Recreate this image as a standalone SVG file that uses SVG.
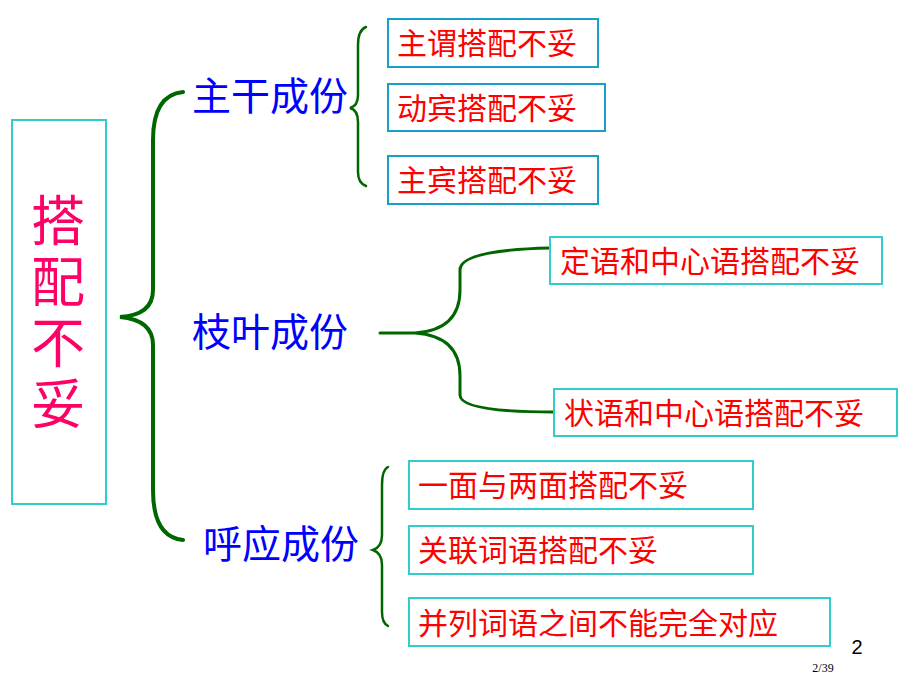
<svg xmlns="http://www.w3.org/2000/svg" width="920" height="690" viewBox="0 0 920 690">
<style>
.t{font-family:"Noto Sans CJK SC","Liberation Sans",sans-serif}
.b1{fill:#fff;stroke:#1aa0c8;stroke-width:2}
.b2{fill:#fff;stroke:#33cccc;stroke-width:2}
.r{fill:#ff0000;font-size:30px}
.bl{fill:#0000ff;font-size:39px}
.br{fill:none;stroke:#006600;stroke-linecap:round}
</style>
<rect width="920" height="690" fill="#fff"/>
<g id="title"><rect x="12" y="120" width="94" height="384" fill="#fff" stroke="#33cccc" stroke-width="2"/>
<text class="t" x="58" y="193" fill="#ff0066" font-size="54" writing-mode="tb" letter-spacing="7">搭配不妥</text></g>
<g id="connectors">
<path class="br" stroke-width="4" d="M183,92 Q153,95 153,140 L153,290 Q153,315 120,317 Q153,320 153,345 L153,490 Q153,537 183,540"/>
<path class="br" stroke-width="2.5" d="M366,27 Q358,30 358,45 L358,95 Q358,106 350,108 Q358,110 358,122 L358,172 Q358,183 366,186"/>
<path class="br" stroke-width="3" d="M380,333 L415,333 Q460,330 460,290 L460,270 Q460,250 550,248 M415,333 Q460,336 460,376 L460,395 Q460,412 554,412"/>
<path class="br" stroke-width="2.5" d="M388,467 Q382,470 382,485 L382,535 Q382,547 373,550 Q382,553 382,565 L382,612 Q382,623 388,626"/>
</g>
<g id="n-main"><text class="t bl" x="192" y="110">主干成份</text></g>
<g id="n-branch"><text class="t bl" x="192" y="346">枝叶成份</text></g>
<g id="n-echo"><text class="t bl" x="203" y="558">呼应成份</text></g>
<g id="b1"><rect class="b1" x="388" y="19" width="210" height="48"/><text class="t r" x="397" y="54">主谓搭配不妥</text></g>
<g id="b2"><rect class="b1" x="388" y="84" width="217" height="47"/><text class="t r" x="397" y="119">动宾搭配不妥</text></g>
<g id="b3"><rect class="b1" x="388" y="156" width="210" height="48"/><text class="t r" x="397" y="191">主宾搭配不妥</text></g>
<g id="b4"><rect class="b2" x="550" y="237" width="332" height="47"/><text class="t r" x="560" y="272">定语和中心语搭配不妥</text></g>
<g id="b5"><rect class="b2" x="554" y="389" width="343" height="47"/><text class="t r" x="564" y="424">状语和中心语搭配不妥</text></g>
<g id="b6"><rect class="b2" x="409" y="461" width="344" height="48"/><text class="t r" x="418" y="496">一面与两面搭配不妥</text></g>
<g id="b7"><rect class="b2" x="409" y="526" width="344" height="48"/><text class="t r" x="418" y="561">关联词语搭配不妥</text></g>
<g id="b8"><rect class="b2" x="409" y="598" width="421" height="48"/><text class="t r" x="418" y="634">并列词语之间不能完全对应</text></g>
<text x="857" y="654" font-family="Liberation Sans,sans-serif" font-size="20" text-anchor="middle">2</text>
<text x="823" y="672" font-family="Liberation Serif,serif" font-size="12" text-anchor="middle">2/39</text>
</svg>
